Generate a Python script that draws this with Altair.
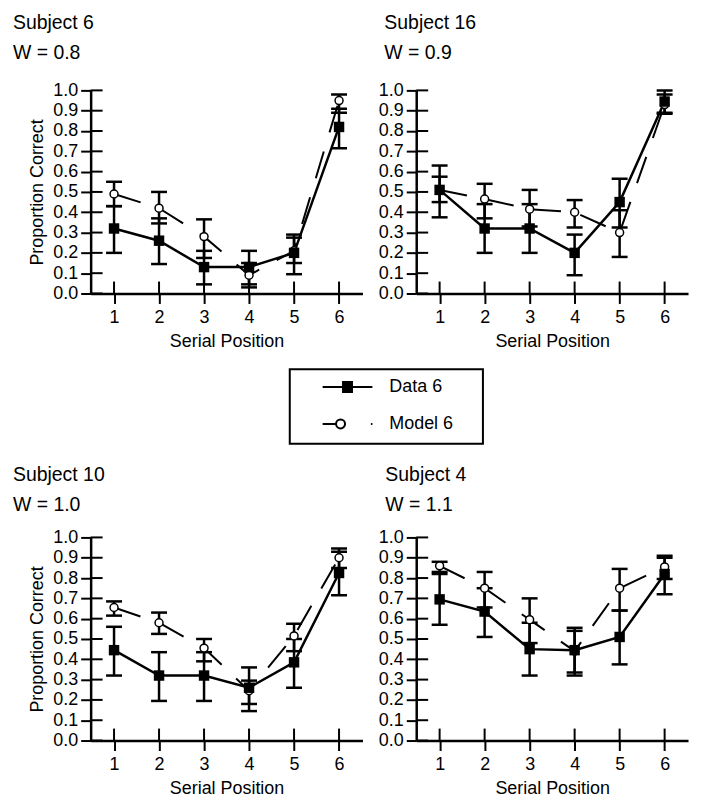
import altair as alt
import pandas as pd

positions = [1, 2, 3, 4, 5, 6]
y_ticks = [0.0, 0.1, 0.2, 0.3, 0.4, 0.5, 0.6, 0.7, 0.8, 0.9, 1.0]
series_labels = ["Data 6", "Model 6"]

# Subject 6, W = 0.8
s6_data = [0.32, 0.26, 0.13, 0.13, 0.20, 0.82]
s6_data_lo = [0.20, 0.145, 0.045, 0.045, 0.095, 0.715]
s6_data_hi = [0.43, 0.37, 0.21, 0.21, 0.29, 0.91]
s6_model = [0.49, 0.42, 0.28, 0.09, 0.21, 0.95]
s6_model_lo = [0.43, 0.345, 0.175, 0.03, 0.15, 0.89]
s6_model_hi = [0.55, 0.50, 0.365, 0.15, 0.275, 0.98]

# Subject 16, W = 0.9
s16_data = [0.51, 0.32, 0.32, 0.20, 0.45, 0.945]
s16_data_lo = [0.375, 0.20, 0.20, 0.09, 0.325, 0.89]
s16_data_hi = [0.63, 0.44, 0.44, 0.29, 0.565, 1.0]
s16_model = [0.51, 0.465, 0.415, 0.40, 0.30, 0.93]
s16_model_lo = [0.45, 0.37, 0.33, 0.325, 0.18, 0.885]
s16_model_hi = [0.575, 0.54, 0.51, 0.46, 0.41, 0.98]

# Subject 10, W = 1.0
s10_data = [0.445, 0.32, 0.32, 0.26, 0.385, 0.825]
s10_data_lo = [0.32, 0.195, 0.195, 0.145, 0.26, 0.715]
s10_data_hi = [0.56, 0.435, 0.435, 0.36, 0.50, 0.93]
s10_model = [0.655, 0.58, 0.455, 0.245, 0.515, 0.90]
s10_model_lo = [0.615, 0.525, 0.39, 0.18, 0.44, 0.85]
s10_model_hi = [0.685, 0.63, 0.50, 0.295, 0.575, 0.945]

# Subject 4, W = 1.1
s4_data = [0.695, 0.635, 0.45, 0.445, 0.51, 0.82]
s4_data_lo = [0.57, 0.51, 0.32, 0.335, 0.375, 0.72]
s4_data_hi = [0.82, 0.75, 0.58, 0.555, 0.64, 0.91]
s4_model = [0.86, 0.75, 0.595, 0.44, 0.75, 0.855]
s4_model_lo = [0.83, 0.655, 0.48, 0.32, 0.64, 0.795]
s4_model_hi = [0.88, 0.83, 0.70, 0.54, 0.845, 0.90]

FONT = "Liberation Sans"
W, H = 273, 204
X_DOMAIN = [0.48, 6.52]


def panel(subject, weight, d, dlo, dhi, m, mlo, mhi, y_title, title_dx, title_offset):
    df = pd.DataFrame({"pos": positions, "data": d, "dlo": dlo, "dhi": dhi,
                       "model": m, "mlo": mlo, "mhi": mhi})
    xs = alt.Scale(domain=X_DOMAIN, nice=False, zero=False)
    ys = alt.Scale(domain=[0, 1], nice=False)
    x_axis = alt.Axis(values=positions, title="Serial Position", format="d")
    y_axis = alt.Axis(values=y_ticks, format=".1f", title=y_title) if y_title else \
        alt.Axis(values=y_ticks, format=".1f", title=None)

    def X(f="pos"):
        return alt.X(f"{f}:Q", scale=xs, axis=x_axis)

    def Y(f):
        return alt.Y(f"{f}:Q", scale=ys, axis=y_axis)

    def cap(f):
        return base.mark_tick(orient="horizontal", size=16, thickness=2.5, color="black",
                              opacity=1).encode(x=X(), y=Y(f))

    base = alt.Chart(df)
    d_err = base.mark_rule(color="black", strokeWidth=2.5).encode(x=X(), y=Y("dlo"), y2="dhi:Q")
    m_err = base.mark_rule(color="black", strokeWidth=2.5).encode(x=X(), y=Y("mlo"), y2="mhi:Q")
    m_line = base.mark_line(color="black", strokeWidth=2, strokeDash=[28, 20]).encode(x=X(), y=Y("model"))
    d_line = base.mark_line(color="black", strokeWidth=2.5).encode(x=X(), y=Y("data"))
    m_pts = base.mark_point(shape="circle", size=64, filled=True, fill="white", stroke="black",
                            strokeWidth=1.5, opacity=1).encode(x=X(), y=Y("model"))
    d_pts = base.mark_point(shape="square", size=110, filled=True, color="black", opacity=1).encode(x=X(), y=Y("data"))

    xt = alt.Chart(pd.DataFrame({"pos": positions})).mark_rule(color="black", strokeWidth=2).encode(
        x=X(), y=alt.value(H), y2=alt.value(H - 12))
    yt = alt.Chart(pd.DataFrame({"v": y_ticks})).mark_rule(color="black", strokeWidth=2).encode(
        y=Y("v"), x=alt.value(0), x2=alt.value(12))

    return alt.layer(xt, yt, d_err, cap("dlo"), cap("dhi"), m_err, cap("mlo"), cap("mhi"),
                     m_line, d_line, m_pts, d_pts).properties(
        width=W, height=H,
        title=alt.TitleParams(text=[subject, weight], anchor="start", frame="group", fontSize=19.5,
                              fontWeight="normal", font=FONT, color="black", lineHeight=30,
                              dx=title_dx, offset=title_offset),
    )


p6 = panel("Subject 6", "W = 0.8", s6_data, s6_data_lo, s6_data_hi, s6_model, s6_model_lo, s6_model_hi,
           "Proportion Correct", -78, 18)
p16 = panel("Subject 16", "W = 0.9", s16_data, s16_data_lo, s16_data_hi, s16_model, s16_model_lo, s16_model_hi,
            None, -32, 18)
p10 = panel("Subject 10", "W = 1.0", s10_data, s10_data_lo, s10_data_hi, s10_model, s10_model_lo, s10_model_hi,
            "Proportion Correct", -78, 13)
p4 = panel("Subject 4", "W = 1.1", s4_data, s4_data_lo, s4_data_hi, s4_model, s4_model_lo, s4_model_hi,
           None, -31, 13)

# legend (a real Vega-Lite legend, drawn inside a framed empty view);
# symbol glyphs are custom SVG paths: line + solid square, dashed line + open circle
path_data = ("M-5,0H5"
             "M-1.1,-1H1.1M-1.1,-0.6H1.1M-1.1,-0.2H1.1M-1.1,0.2H1.1M-1.1,0.6H1.1M-1.1,1H1.1")
path_model = "M-5,0H-2.3M-2.3,0A0.9,0.9,0,1,0,-0.5,0A0.9,0.9,0,1,0,-2.3,0M4.7,0H5"
leg_df = pd.DataFrame({"series": series_labels})
legend_chart = alt.Chart(leg_df).mark_point(filled=False, color="black", opacity=1, strokeWidth=2).encode(
    shape=alt.Shape("series:N", scale=alt.Scale(domain=series_labels, range=[path_data, path_model]),
                    legend=alt.Legend(title=None, orient="none", legendX=49, legendY=9, labelFontSize=18,
                                      labelFont=FONT, labelColor="black", symbolStrokeColor="black",
                                      symbolStrokeWidth=2, symbolSize=100, symbolOpacity=1,
                                      symbolFillColor="transparent", labelOffset=33, rowPadding=19)),
).transform_filter(alt.datum.series == "none").properties(
    width=194, height=75, view=alt.ViewBackground(stroke="black", strokeWidth=2))

spacer = alt.Chart(pd.DataFrame({"a": [0]})).mark_point(opacity=0).properties(width=199, height=79)

top = alt.hconcat(p6, p16, spacing=14)
mid = alt.hconcat(spacer, legend_chart, spacing=0).resolve_scale(shape="independent")
bottom = alt.hconcat(p10, p4, spacing=14)

chart = alt.vconcat(top, mid, bottom, spacing=17).resolve_scale(shape="independent").properties(
    padding={"left": 4, "top": 3, "right": 5, "bottom": 5}
).configure(font=FONT).configure_view(stroke="transparent").configure_axis(
    domainColor="black", domainWidth=2.5, tickColor="black", tickWidth=2, tickSize=10,
    labelFontSize=18, labelColor="black", labelFont=FONT, titleFontSize=18, titleFont=FONT,
    titleFontWeight="normal", titleColor="black", grid=False,
).configure_axisX(labelPadding=5, titlePadding=6).configure_axisY(labelPadding=3, titlePadding=6)

chart.save("out.html", embed_options={"renderer": "svg", "actions": False})
